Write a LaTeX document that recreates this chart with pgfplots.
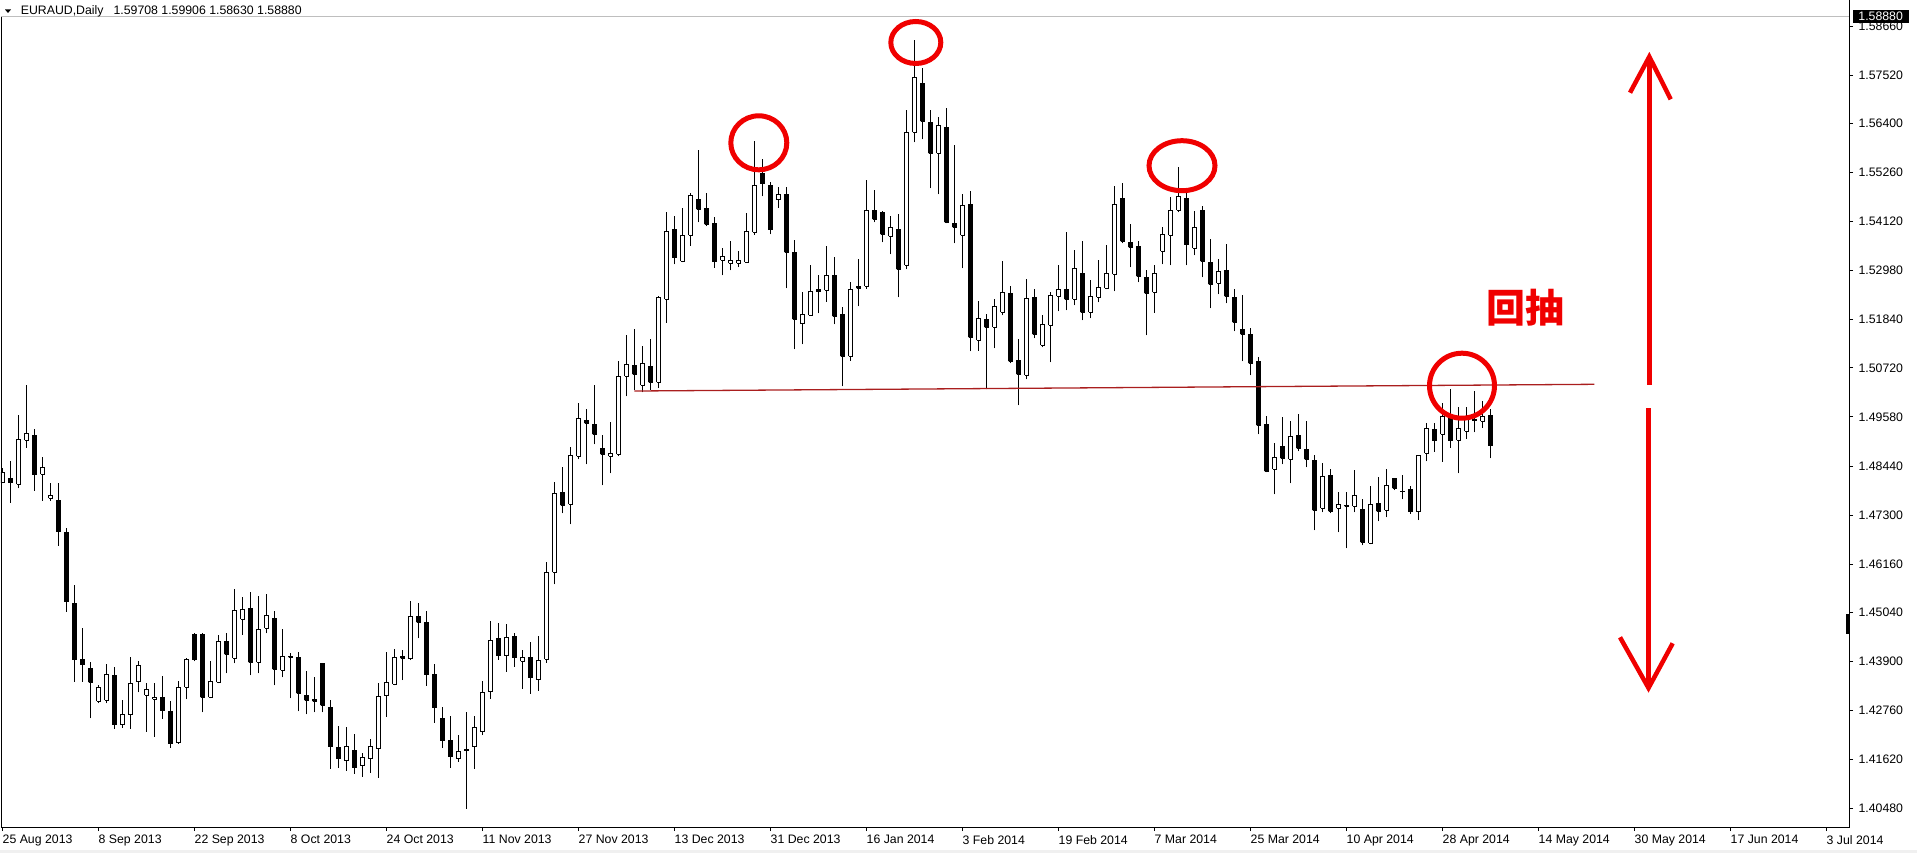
\documentclass[border=0pt]{standalone}
\usepackage{pgfplots}
\pgfplotsset{compat=1.18}
\usepackage{pgfplotstable}
\usepackage{fontspec}
\setmainfont{Liberation Sans}
\newfontfamily\cjk{Noto Sans CJK SC}

\definecolor{trendred}{RGB}{170,30,30}
\definecolor{markred}{RGB}{240,0,0}
\definecolor{bidgray}{RGB}{190,190,190}

\newcommand\chartfont{\fontsize{6.15pt}{7pt}\selectfont}

% EURAUD daily candles: bar index, open, high, low, close
\pgfplotstableread{
k o h l c
0 1.48061 1.48394 1.48045 1.48285
1 1.48154 1.48557 1.47587 1.48061
2 1.48015 1.49626 1.47922 1.49061
3 1.49038 1.50323 1.48866 1.49200
4 1.49154 1.49293 1.47866 1.48238
5 1.48247 1.48649 1.47634 1.48410
6 1.47689 1.48038 1.47634 1.47759
7 1.47643 1.48038 1.46588 1.46913
8 1.46899 1.46992 1.45054 1.45286
9 1.45249 1.45668 1.43427 1.43938
10 1.43948 1.44675 1.43427 1.43822
11 1.43738 1.43878 1.42576 1.43413
12 1.42971 1.43350 1.42925 1.43297
13 1.42995 1.43845 1.42925 1.43606
14 1.43576 1.43769 1.42335 1.42428
15 1.42428 1.42995 1.42358 1.42660
16 1.42660 1.43994 1.42335 1.43390
17 1.43427 1.43901 1.43181 1.43808
18 1.43111 1.43390 1.42265 1.43250
19 1.43018 1.43404 1.42149 1.43064
20 1.43064 1.43552 1.42567 1.42753
21 1.42739 1.42978 1.41893 1.41986
22 1.42009 1.43443 1.41986 1.43288
23 1.43297 1.43978 1.43018 1.43948
24 1.44529 1.44552 1.43901 1.43938
25 1.44529 1.44552 1.42716 1.43064
26 1.43064 1.43901 1.43041 1.43436
27 1.43413 1.44505 1.43390 1.44366
28 1.44366 1.44552 1.43622 1.44064
29 1.43971 1.45582 1.43855 1.45086
30 1.44877 1.45396 1.44519 1.45110
31 1.45133 1.45512 1.43576 1.43878
32 1.43878 1.45419 1.43622 1.44645
33 1.44668 1.45465 1.44552 1.44970
34 1.44901 1.45063 1.43343 1.43715
35 1.43692 1.44645 1.43529 1.44017
36 1.44017 1.44087 1.43041 1.43994
37 1.43994 1.44110 1.42739 1.43157
38 1.43111 1.43669 1.42669 1.42995
39 1.43018 1.43529 1.42716 1.42971
40 1.43855 1.43855 1.42716 1.42878
41 1.42832 1.42995 1.41405 1.41916
42 1.41893 1.42390 1.41428 1.41637
43 1.41591 1.42367 1.41358 1.41916
44 1.41823 1.42204 1.41289 1.41428
45 1.41475 1.41763 1.41219 1.41661
46 1.41637 1.42102 1.41312 1.41916
47 1.41870 1.43397 1.41196 1.43078
48 1.43102 1.44110 1.42614 1.43413
49 1.43367 1.44180 1.43343 1.43994
50 1.44008 1.44164 1.43466 1.43971
51 1.43955 1.45303 1.43931 1.44947
52 1.44947 1.45256 1.44436 1.44808
53 1.44808 1.45063 1.43334 1.43590
54 1.43590 1.43838 1.42474 1.42823
55 1.42576 1.42839 1.41893 1.42056
56 1.42065 1.42630 1.41428 1.41684
57 1.41637 1.42188 1.41568 1.41800
58 1.41846 1.42723 1.40475 1.41823
59 1.41916 1.42630 1.41405 1.42358
60 1.42265 1.43443 1.42188 1.43171
61 1.43195 1.44838 1.43032 1.44389
62 1.44436 1.44791 1.43938 1.44031
63 1.44031 1.44768 1.43659 1.44459
64 1.44482 1.44559 1.43776 1.43985
65 1.43901 1.44157 1.43264 1.43994
66 1.43994 1.44343 1.43148 1.43520
67 1.43473 1.44482 1.43218 1.43924
68 1.43948 1.46202 1.43869 1.45970
69 1.45970 1.48061 1.45691 1.47806
70 1.47829 1.48410 1.47341 1.47527
71 1.47550 1.48875 1.47085 1.48689
72 1.48666 1.49898 1.48596 1.49549
73 1.49502 1.49758 1.48480 1.49433
74 1.49409 1.50316 1.48945 1.49177
75 1.48852 1.49154 1.47992 1.48712
76 1.48666 1.49456 1.48271 1.48735
77 1.48712 1.50874 1.48666 1.50525
78 1.50525 1.51478 1.50060 1.50804
79 1.50781 1.51617 1.50200 1.50572
80 1.50316 1.51222 1.50153 1.50827
81 1.50758 1.51385 1.50200 1.50386
82 1.50386 1.52391 1.50260 1.52368
83 1.52315 1.54344 1.51771 1.53895
84 1.53942 1.54251 1.53128 1.53282
85 1.53198 1.54437 1.53175 1.53802
86 1.53802 1.54778 1.53560 1.54716
87 1.54639 1.55785 1.54104 1.54406
88 1.54430 1.54778 1.54018 1.54058
89 1.54065 1.54235 1.53049 1.53189
90 1.53228 1.53507 1.52873 1.53298
91 1.53151 1.53677 1.52989 1.53205
92 1.53151 1.53444 1.53065 1.53205
93 1.53175 1.54327 1.53175 1.53895
94 1.53872 1.55994 1.53816 1.54964
95 1.55250 1.55576 1.54709 1.55001
96 1.54971 1.55041 1.53825 1.53932
97 1.54623 1.54925 1.54444 1.54762
98 1.54739 1.54925 1.52570 1.53407
99 1.53391 1.53693 1.51153 1.51850
100 1.51741 1.52491 1.51269 1.51966
101 1.51943 1.53112 1.51943 1.52501
102 1.52531 1.52879 1.51989 1.52491
103 1.52524 1.53554 1.52259 1.52873
104 1.52873 1.53298 1.51734 1.51920
105 1.51966 1.52143 1.50293 1.50990
106 1.50990 1.52710 1.50881 1.52547
107 1.52601 1.53251 1.52152 1.52570
108 1.52617 1.55087 1.52561 1.54383
109 1.54383 1.54855 1.54104 1.54174
110 1.54337 1.54360 1.53640 1.53825
111 1.53779 1.54244 1.53361 1.53988
112 1.53942 1.54290 1.52361 1.53012
113 1.53105 1.56707 1.53012 1.56196
114 1.56196 1.58341 1.55964 1.57474
115 1.57335 1.57684 1.56033 1.56452
116 1.56429 1.56707 1.54895 1.55708
117 1.55708 1.56545 1.54755 1.56359
118 1.56312 1.56754 1.54081 1.54104
119 1.54081 1.55894 1.53616 1.53988
120 1.53802 1.54755 1.53035 1.54499
121 1.54523 1.54825 1.51106 1.51432
122 1.51362 1.52268 1.51120 1.51873
123 1.51850 1.51966 1.50223 1.51664
124 1.51664 1.52315 1.51176 1.52152
125 1.52013 1.53205 1.51943 1.52477
126 1.52454 1.52617 1.50827 1.50874
127 1.50897 1.51385 1.49851 1.50572
128 1.50548 1.52779 1.50455 1.52338
129 1.52361 1.52547 1.51408 1.51501
130 1.51246 1.51943 1.51199 1.51734
131 1.51710 1.52477 1.50850 1.52408
132 1.52384 1.53105 1.52036 1.52547
133 1.52547 1.53872 1.52059 1.52315
134 1.52315 1.53454 1.52175 1.53035
135 1.52919 1.53663 1.51827 1.52013
136 1.52013 1.52756 1.51873 1.52384
137 1.52361 1.53221 1.52245 1.52594
138 1.52570 1.53570 1.52547 1.52919
139 1.52896 1.54941 1.52501 1.54523
140 1.54662 1.55011 1.53616 1.53663
141 1.53640 1.54058 1.53058 1.53523
142 1.53547 1.53663 1.52710 1.52849
143 1.52826 1.52989 1.51478 1.52454
144 1.52477 1.53105 1.52003 1.52919
145 1.53430 1.53988 1.53128 1.53825
146 1.53802 1.54685 1.53105 1.54383
147 1.54383 1.55390 1.54337 1.54709
148 1.54662 1.54778 1.53105 1.53584
149 1.53500 1.54360 1.53337 1.53988
150 1.54383 1.54476 1.52826 1.53198
151 1.53175 1.53709 1.52106 1.52663
152 1.52687 1.53244 1.52431 1.52965
153 1.52989 1.53593 1.52222 1.52384
154 1.52361 1.52547 1.51571 1.51780
155 1.51617 1.52408 1.50874 1.51501
156 1.51501 1.51641 1.50548 1.50827
157 1.50874 1.50967 1.49177 1.49386
158 1.49409 1.49595 1.48294 1.48317
159 1.48364 1.48968 1.47783 1.48642
160 1.48898 1.49572 1.48480 1.48619
161 1.48596 1.49479 1.48038 1.49131
162 1.49154 1.49642 1.48782 1.48852
163 1.48828 1.49479 1.48410 1.48596
164 1.48573 1.48689 1.46946 1.47411
165 1.47457 1.48503 1.47364 1.48201
166 1.48224 1.48364 1.47341 1.47387
167 1.47457 1.47829 1.46899 1.47550
168 1.47527 1.47829 1.46527 1.47504
169 1.47504 1.48340 1.47364 1.47759
170 1.47434 1.47666 1.46597 1.46667
171 1.46644 1.47968 1.46620 1.47550
172 1.47573 1.48178 1.47155 1.47387
173 1.47411 1.48364 1.47248 1.47992
174 1.48154 1.48161 1.47882 1.47922
175 1.47859 1.48231 1.47666 1.47836
176 1.47899 1.47975 1.47325 1.47378
177 1.47378 1.48689 1.47185 1.48689
178 1.48735 1.49433 1.48550 1.49307
179 1.49277 1.49433 1.48773 1.49028
180 1.49177 1.49898 1.48540 1.49586
181 1.49540 1.50223 1.48866 1.49028
182 1.49038 1.49805 1.48271 1.49317
183 1.49247 1.49805 1.49075 1.49572
184 1.49526 1.50176 1.49224 1.49493
185 1.49479 1.49944 1.49330 1.49595
186 1.49619 1.49758 1.48619 1.48912
}\candles

\pgfplotsset{candle/.style={draw=black, line width=0.5pt, solid, mark=none}}

\begin{document}
\begin{tikzpicture}
\path[use as bounding box] (0,0) rectangle (958.5pt,426.5pt);
\begin{axis}[
  at={(0.5pt,13pt)}, anchor=south west,
  scale only axis, width=924pt, height=413.5pt,
  xmin=-0.1625, xmax=230.8375,
  ymin=1.400499, ymax=1.59271,
  axis line style={draw=none},
  tick align=outside,
  major tick length=2pt,
  tick style={black, line width=0.5pt},
  xtick pos=left,
  ytick pos=right, yticklabel pos=right,
  scaled y ticks=false,
  xtick={0,12,...,228},
  xticklabels={25 Aug 2013,8 Sep 2013,22 Sep 2013,8 Oct 2013,24 Oct 2013,11 Nov 2013,27 Nov 2013,13 Dec 2013,31 Dec 2013,16 Jan 2014,3 Feb 2014,19 Feb 2014,7 Mar 2014,25 Mar 2014,10 Apr 2014,28 Apr 2014,14 May 2014,30 May 2014,17 Jun 2014,3 Jul 2014},
  ytick={1.40480,1.41620,1.42760,1.43900,1.45040,1.46160,1.47300,1.48440,1.49580,1.50720,1.51840,1.52980,1.54120,1.55260,1.56400,1.57520,1.58660},
  yticklabels={1.40480,1.41620,1.42760,1.43900,1.45040,1.46160,1.47300,1.48440,1.49580,1.50720,1.51840,1.52980,1.54120,1.55260,1.56400,1.57520,1.58660},
  xticklabel style={anchor=north west, inner sep=0pt, font=\chartfont, yshift=-2pt},
  yticklabel style={anchor=west, inner sep=0pt, font=\chartfont, xshift=2.6pt},
]
% current bid line
\addplot[bidgray, line width=0.5pt] coordinates {(-0.1625,1.58880) (230.8375,1.58880)};

% one candle per row: wick from low to high, body from open to close
% (white body when close > open, black otherwise)
\pgfplotstablegetrowsof{\candles}
\pgfmathtruncatemacro{\lastrow}{\pgfplotsretval-1}
\pgfplotsforeachungrouped \ci in {0,...,\lastrow}{%
  \pgfplotstablegetelem{\ci}{k}\of\candles\let\cK\pgfplotsretval
  \pgfplotstablegetelem{\ci}{o}\of\candles\let\cO\pgfplotsretval
  \pgfplotstablegetelem{\ci}{h}\of\candles\let\cH\pgfplotsretval
  \pgfplotstablegetelem{\ci}{l}\of\candles\let\cL\pgfplotsretval
  \pgfplotstablegetelem{\ci}{c}\of\candles\let\cC\pgfplotsretval
  \pgfmathparse{\cC>\cO}%
  \ifdim\pgfmathresult pt>0.5pt
    \let\cBot\cO \let\cTop\cC \def\cFill{white}%
  \else
    \let\cBot\cC \let\cTop\cO \def\cFill{black}%
  \fi
  \pgfmathsetmacro{\kL}{\cK-0.225}%
  \pgfmathsetmacro{\kR}{\cK+0.225}%
  \edef\candleplot{%
    \noexpand\addplot[candle] coordinates {(\cK,\cL) (\cK,\cH)};
    \noexpand\addplot[candle, fill=\cFill] coordinates {(\kL,\cBot) (\kR,\cBot) (\kR,\cTop) (\kL,\cTop) (\kL,\cBot)};
  }%
  \candleplot
}

% neckline
\addplot[trendred, line width=0.65pt] coordinates {(79,1.50183) (199,1.50339)};
\end{axis}

% annotations, in image pixel units (origin top left)
\begin{scope}[x=0.5pt, y=-0.5pt, shift={(0pt,426.5pt)}]
  % chart frame
  \draw[black, line width=0.5pt] (1.5,17) -- (1.5,827) -- (1849,827) -- (1849,0);
  \fill[black] (1846,614) rectangle (1849.5,634);
  \fill[black!6] (0,850) rectangle (1917,853);
  % title
  \fill[black] (5,9.5) -- (11,9.5) -- (8,13) -- cycle;
  \node[anchor=base west, inner sep=0pt] at (20.5,15)
    {\chartfont EURAUD,Daily\hspace{5pt}1.59708 1.59906 1.58630 1.58880};
  % bid price tag
  \fill[black] (1853,10) rectangle (1909,23);
  \node[anchor=base west, inner sep=0pt, text=white] at (1858,20.9) {\chartfont 1.58880};
  % marked highs and the retest
  \draw[markred, line width=2.5pt] (758.8,142.8) ellipse [x radius=28, y radius=27];
  \draw[markred, line width=2.5pt] (915.8,42.5) ellipse [x radius=25, y radius=21];
  \draw[markred, line width=2.5pt] (1182,165.7) ellipse [x radius=33, y radius=25];
  \draw[markred, line width=2.5pt] (1462,385.7) ellipse [x radius=32.5, y radius=32.5];
  \node[text=markred, inner sep=0pt] at (1525,307.5)
    {\cjk\bfseries\fontsize{19.5pt}{19.5pt}\selectfont 回抽};
  % measured move arrows
  \draw[markred, line width=2.25pt] (1649.3,56.7) -- (1649.3,385);
  \draw[markred, line width=2.25pt, line join=miter] (1630,92.7) -- (1649.3,56.7) -- (1670.7,99.3);
  \draw[markred, line width=2.25pt] (1648.5,408) -- (1648.5,688);
  \draw[markred, line width=2.25pt, line join=miter] (1620,637.3) -- (1648.5,688) -- (1672.7,643.3);
\end{scope}
\end{tikzpicture}
\end{document}
